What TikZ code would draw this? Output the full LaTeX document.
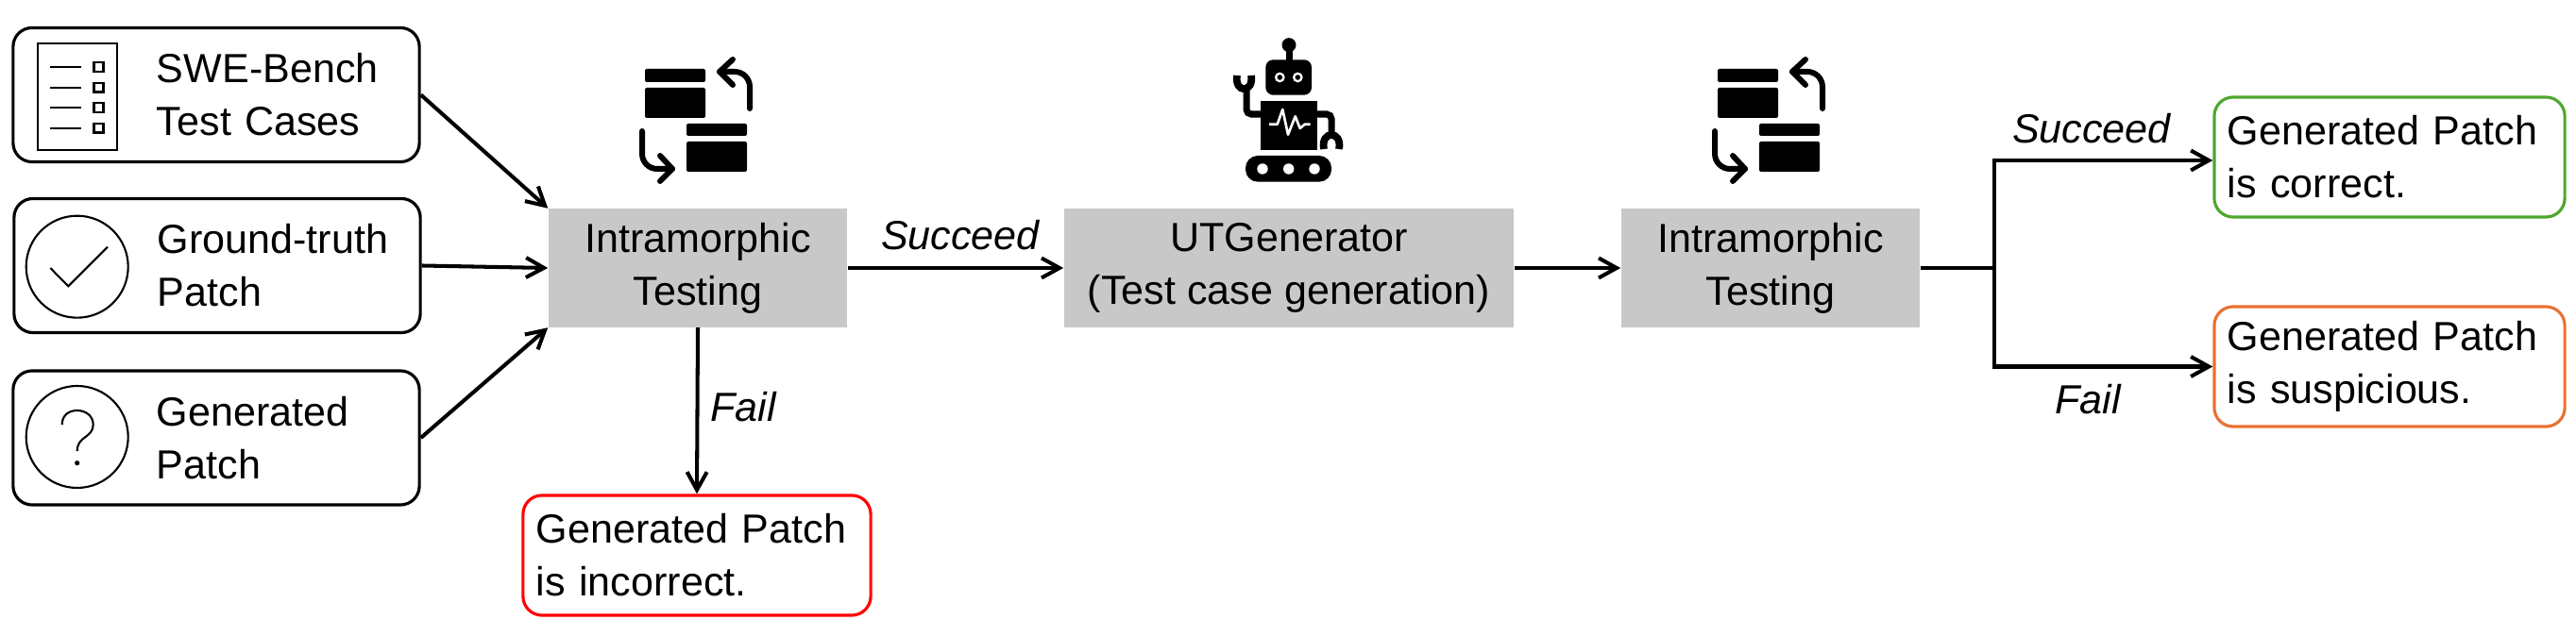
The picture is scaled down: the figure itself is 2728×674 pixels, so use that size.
\documentclass[tikz,border=0pt]{standalone}
\usepackage{fontspec}
\setmainfont{Liberation Sans}
\usetikzlibrary{arrows.meta}
\definecolor{boxgray}{HTML}{C8C8C8}
\definecolor{okgreen}{HTML}{4EA72E}
\definecolor{susorange}{HTML}{E97132}
\tikzset{
	srcbox/.style={draw,line width=0.9pt,rounded corners=0.2cm,inner xsep=0pt,inner ysep=0pt,text width=4.3cm,minimum height=1.42cm,align=left,execute at begin node={\leftskip=1.52cm}},
	stagebox/.style={fill=boxgray,inner sep=0pt,minimum height=1.25cm,align=center},
	resbox/.style={draw=#1,line width=0.9pt,rounded corners=0.2cm,inner xsep=0.14cm,inner ysep=0pt,minimum height=1.27cm,align=left},
	flow/.style={->,line width=1.15pt},
	tag/.style={font=\fontsize{12.25}{15.9}\selectfont\itshape,inner sep=0pt},
	iconline/.style={line width=0.6pt},
	swapicon/.pic={
		\fill[rounded corners=0.02cm] (-54,-55) rectangle (10,-41);
		\fill[rounded corners=0.02cm] (-54,-35) rectangle (10,-3);
		\fill[rounded corners=0.02cm] (-10,3) rectangle (54,16);
		\fill[rounded corners=0.02cm] (-10,22) rectangle (54,54);
		\draw[line width=1.7pt,line cap=round,line join=round,rounded corners=0.16cm] (57,-13)--(57,-52)--(25,-52);
		\draw[line width=1.7pt,line cap=round,line join=round] (39,-65)--(25,-52)--(39,-38);
		\draw[line width=1.7pt,line cap=round,line join=round,rounded corners=0.16cm] (-57,11)--(-57,51)--(-25,51);
		\draw[line width=1.7pt,line cap=round,line join=round] (-38,37)--(-25,51)--(-38,64);
	}
}
\begin{document}
\begin{tikzpicture}[x=0.01cm,y=-0.01cm,>={Straight Barb[length=1.9mm,width=2.1mm]},font=\fontsize{12.25}{15.9}\selectfont]
	\useasboundingbox (0,0) rectangle (2728,674);
	\node[srcbox] (swebox) at (229,100.5) {SWE-Bench\\Test Cases};
	\node[srcbox] (gtbox) at (230,281.5) {Ground-truth\\Patch};
	\node[srcbox] (genbox) at (229,464) {Generated\\Patch};
	\node[stagebox,minimum width=3.16cm] (intraA) at (739,284) {Intramorphic\\Testing};
	\node[stagebox,minimum width=4.76cm] (utgen) at (1365,284) {UTGenerator\\(Test case generation)};
	\node[stagebox,minimum width=3.16cm] (intraB) at (1875,284) {Intramorphic\\Testing};
	\node[resbox=red,text width=3.4cm] (badres) at (738,588.5) {Generated Patch\\is incorrect.};
	\node[resbox=okgreen,text width=3.43cm] (okres) at (2530.5,166.5) {Generated Patch\\is correct.};
	\node[resbox=susorange,text width=3.43cm] (susres) at (2530.5,388.5) {Generated Patch\\is suspicious.};
	\draw[flow] (swebox.east)--(intraA.north west);
	\draw[flow] (gtbox.east)--(intraA.west);
	\draw[flow] (genbox.east)--(intraA.south west);
	\draw[flow] (intraA.south)--(badres.north);
	\draw[flow] (intraA.east)--(utgen.west);
	\draw[flow] (utgen.east)--(intraB.west);
	\draw[line width=1.15pt] (intraB.east)--(2112,284) coordinate (fork);
	\draw[flow] (fork)|-([yshift=-0.035cm]okres.west);
	\draw[flow] (fork)|-(susres.west);
	\node[tag] (failA) at (787,431) {Fail};
	\node[tag] (passA) at (1017,249) {Succeed};
	\node[tag] (passB) at (2215,136) {Succeed};
	\node[tag] (failB) at (2211,423) {Fail};
	\pic at (737,128) {swapicon};
	\pic at (1873,128) {swapicon};
	\draw[line width=0.7pt] (40,46) rectangle (124,159);
	\foreach \y in {71,92.7,114,135.7}{
		\draw[iconline] (53,\y)--(86,\y);
		\draw[line width=0.7pt] (99.5,\y-4.8) rectangle (109.5,\y+4.8);
	}
	\draw[iconline] (81.7,282.7) circle (54);
	\draw[iconline] (53.3,284)--(72.3,303.3)--(114,261.7);
	\draw[iconline] (81.7,463) circle (54);
	\draw[iconline] (65.7,450) .. controls (65.7,440) and (73,435) .. (81.7,435) .. controls (91,435) and (98.7,441) .. (98.7,450) .. controls (98.7,464) and (81.7,462) .. (81.7,478);
	\fill (81.7,490.7) circle (2.6);
	\fill (1365,47.7) circle (7.5);
	\draw[line width=2pt] (1365,50)--(1365,66);
	\fill[rounded corners=0.08cm] (1340.3,63.3) rectangle (1389,100.7);
	\foreach \x in {1355.3,1374.3}{
		\fill[white] (\x,82) circle (5.4);
		\fill (\x,82) circle (2.8);
	}
	\fill (1334.7,106.7) rectangle (1395,159.3);
	\draw[white,line width=0.75pt,line join=round] (1344,131.7)--(1352.7,131.7)--(1358.3,116)--(1364,142.7)--(1371.7,123.3)--(1376.7,136)--(1381.7,131.7)--(1387.7,131.7);
	\draw[line width=2pt,rounded corners=0.05cm] (1336,121)--(1320,121)--(1320,94);
	\draw[line width=2.2pt] (1310,80) .. controls (1307,99) and (1328,99) .. (1325,80);
	\draw[line width=2pt,rounded corners=0.05cm] (1394,121)--(1410,121)--(1410,144);
	\draw[line width=2.2pt] (1402,158) .. controls (1398,138) and (1422,138) .. (1418,158);
	\fill[rounded corners=0.13cm] (1319,165) rectangle (1410,192.7);
	\foreach \x in {1337,1364.7,1392}
		\fill[white] (\x,179) circle (5.7);
\end{tikzpicture}
\end{document}
